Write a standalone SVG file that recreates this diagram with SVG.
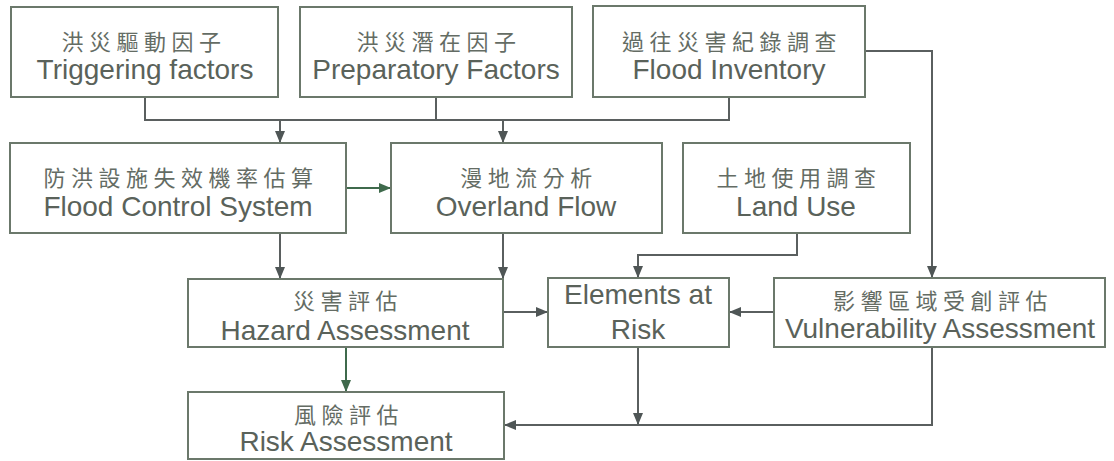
<svg xmlns="http://www.w3.org/2000/svg" width="1114" height="461" viewBox="0 0 1114 461">
<style>
.box{fill:#fff;stroke:#6b786b;stroke-width:2}
.zh{font-family:"Noto Sans CJK TC","Noto Sans CJK SC",sans-serif;font-size:22px;letter-spacing:5.5px;fill:#646c64;text-anchor:middle;font-weight:400}
.en{font-family:"Liberation Sans",Arial,sans-serif;font-size:28px;fill:#5a625a;text-anchor:middle}
.ln{fill:none;stroke:#5a5f5f;stroke-width:2}
.gr{stroke:#3f6a4c}
</style>
<defs>
<marker id="ah" viewBox="0 0 12 10" refX="12" refY="5" markerWidth="12" markerHeight="10" markerUnits="userSpaceOnUse" orient="auto">
<path d="M0,0 L12,5 L0,10 Z" fill="#4f5656"/>
</marker>
<marker id="ahg" viewBox="0 0 12 10" refX="12" refY="5" markerWidth="12" markerHeight="10" markerUnits="userSpaceOnUse" orient="auto">
<path d="M0,0 L12,5 L0,10 Z" fill="#3f6a4c"/>
</marker>
</defs>
<rect width="1114" height="461" fill="#fff"/>
<g id="connectors">
<path class="ln" d="M145,97 V120 H729 V97"/>
<path class="ln" d="M436,97 V120"/>
<path class="ln" d="M280,120 V143" marker-end="url(#ah)"/>
<path class="ln" d="M503,120 V143" marker-end="url(#ah)"/>
<path class="ln" d="M865,51 H932 V278" marker-end="url(#ah)"/>
<path class="ln gr" d="M346,188 H391" marker-end="url(#ahg)"/>
<path class="ln" d="M280,233 V279" marker-end="url(#ah)"/>
<path class="ln" d="M503,233 V279" marker-end="url(#ah)"/>
<path class="ln" d="M797,233 V255 H638 V278" marker-end="url(#ah)"/>
<path class="ln" d="M503,312 H548" marker-end="url(#ah)"/>
<path class="ln" d="M774,312 H729" marker-end="url(#ah)"/>
<path class="ln gr" d="M346,347 V392" marker-end="url(#ahg)"/>
<path class="ln" d="M638,347 V425" marker-end="url(#ah)"/>
<path class="ln" d="M932,347 V425 H504" marker-end="url(#ah)"/>
</g>
<g id="triggering">
<rect class="box" x="11" y="7" width="267" height="90"/>
<text class="zh" x="144" y="50">洪災驅動因子</text>
<text class="en" x="145" y="79">Triggering factors</text>
</g>
<g id="preparatory">
<rect class="box" x="300" y="7" width="272" height="90"/>
<text class="zh" x="439" y="50">洪災潛在因子</text>
<text class="en" x="436" y="79">Preparatory Factors</text>
</g>
<g id="inventory">
<rect class="box" x="593" y="6" width="272" height="91"/>
<text class="zh" x="732" y="50">過往災害紀錄調查</text>
<text class="en" x="729" y="79">Flood Inventory</text>
</g>
<g id="floodcontrol">
<rect class="box" x="10" y="143" width="336" height="90"/>
<text class="zh" x="181" y="186">防洪設施失效機率估算</text>
<text class="en" x="178" y="216">Flood Control System</text>
</g>
<g id="overland">
<rect class="box" x="391" y="143" width="271" height="90"/>
<text class="zh" x="529" y="186">漫地流分析</text>
<text class="en" x="526" y="216">Overland Flow</text>
</g>
<g id="landuse">
<rect class="box" x="683" y="143" width="227" height="90"/>
<text class="zh" x="799" y="186">土地使用調查</text>
<text class="en" x="796" y="216">Land Use</text>
</g>
<g id="hazard">
<rect class="box" x="188" y="279" width="315" height="68"/>
<text class="zh" x="348" y="309">災害評估</text>
<text class="en" x="345" y="340">Hazard Assessment</text>
</g>
<g id="elements">
<rect class="box" x="548" y="278" width="181" height="69"/>
<text class="en" x="638" y="304">Elements at</text>
<text class="en" x="638" y="339">Risk</text>
</g>
<g id="vulnerability">
<rect class="box" x="774" y="278" width="331" height="69"/>
<text class="zh" x="943" y="309">影響區域受創評估</text>
<text class="en" x="940" y="338">Vulnerability Assessment</text>
</g>
<g id="risk">
<rect class="box" x="188" y="392" width="316" height="67"/>
<text class="zh" x="349" y="423">風險評估</text>
<text class="en" x="346" y="451">Risk Assessment</text>
</g>
</svg>
